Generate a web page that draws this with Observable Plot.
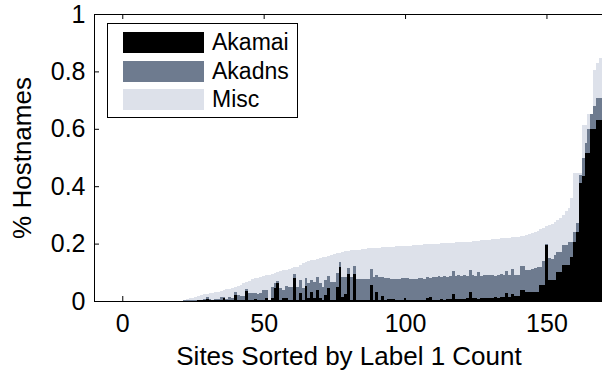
<!DOCTYPE html>
<html>
<head>
<meta charset="utf-8">
<script src="https://cdn.jsdelivr.net/npm/d3@7"></script>
<script src="https://cdn.jsdelivr.net/npm/@observablehq/plot@0.6"></script>
<style>
  html, body { margin: 0; padding: 0; background: #fff; }
  #wrap { position: relative; width: 602px; height: 371px; overflow: hidden; font-family: "Liberation Sans", Arial, sans-serif; }
  #legend { position: absolute; left: 107px; top: 23px; width: 189px; height: 93px; border: 1px solid #000; background: #fff; }
  .row { position: absolute; left: 15px; height: 21px; display: flex; align-items: center; }
  .sw { width: 81px; height: 21px; margin-right: 8px; }
  .lab { font-size: 23px; color: #000; line-height: 21px; }
</style>
</head>
<body>
<div id="wrap"></div>
<script>
// Overlapping bars (each drawn from 0): visible heights
const seriesNames = ["Akamai", "Akadns", "Misc"];
const seriesColors = ["#000000", "#6e7b8f", "#dde1ea"];
const xTicks = [0, 50, 100, 150];
const xTickLabels = ["0", "50", "100", "150"];
const yTicks = [0, 0.2, 0.4, 0.6, 0.8, 1];
const yTickLabels = ["0", "0.2", "0.4", "0.6", "0.8", "1"];
const xLabel = "Sites Sorted by Label 1 Count";
const yLabel = "% Hostnames";

const misc = [
  0,0,0,0,0,0,0,0,0,0,
  0,0,0,0,0,0,0,0,0,0,
  0,0.004,0.006,0.009,0.012,0.014,0.017,0.020,0.023,0.025,
  0.027,0.029,0.031,0.033,0.036,0.039,0.041,0.043,0.046,0.050,
  0.054,0.057,0.061,0.066,0.071,0.076,0.079,0.081,0.084,0.087,
  0.089,0.092,0.095,0.098,0.101,0.104,0.107,0.109,0.111,0.114,
  0.117,0.120,0.125,0.131,0.137,0.140,0.142,0.144,0.146,0.149,
  0.152,0.155,0.158,0.160,0.163,0.166,0.168,0.171,0.173,0.175,
  0.176,0.177,0.178,0.179,0.180,0.181,0.183,0.184,0.185,0.185,
  0.186,0.187,0.187,0.188,0.189,0.189,0.190,0.191,0.191,0.192,
  0.193,0.193,0.194,0.195,0.195,0.196,0.197,0.197,0.198,0.199,
  0.199,0.200,0.201,0.201,0.202,0.203,0.203,0.204,0.205,0.205,
  0.206,0.206,0.207,0.208,0.209,0.210,0.211,0.212,0.213,0.214,
  0.215,0.216,0.217,0.218,0.219,0.220,0.221,0.222,0.223,0.224,
  0.225,0.228,0.231,0.234,0.237,0.241,0.245,0.250,0.255,0.260,
  0.265,0.270,0.276,0.282,0.289,0.300,0.312,0.325,0.360,0.446,
  0.446,0.446,0.614,0.614,0.650,0.650,0.806,0.830,0.848,0.860
];
const akadns = [
  0,0,0,0,0,0,0,0,0,0,
  0,0,0,0,0,0,0,0,0,0,
  0,0.003,0.004,0.004,0.005,0.004,0.005,0.005,0.006,0.015,
  0.006,0.005,0.006,0.007,0.014,0.014,0.008,0.014,0.012,0.033,
  0.020,0.017,0.018,0.042,0.027,0.027,0.027,0.026,0.028,0.038,
  0.038,0.004,0.050,0.062,0.070,0.044,0.039,0.052,0.048,0.048,
  0.094,0.050,0.073,0.044,0.081,0.062,0.073,0.067,0.083,0.062,
  0.050,0.073,0.087,0.067,0.067,0.097,0.135,0.085,0.085,0.114,
  0.083,0.122,0.078,0.077,0.075,0.076,0.078,0.112,0.085,0.090,
  0.082,0.085,0.080,0.080,0.078,0.078,0.077,0.078,0.079,0.080,
  0.079,0.077,0.076,0.078,0.080,0.079,0.078,0.085,0.080,0.085,
  0.083,0.086,0.085,0.087,0.084,0.088,0.106,0.087,0.090,0.088,
  0.089,0.086,0.108,0.090,0.088,0.100,0.088,0.090,0.092,0.090,
  0.089,0.088,0.090,0.093,0.090,0.106,0.090,0.110,0.092,0.092,
  0.122,0.122,0.108,0.108,0.110,0.114,0.120,0.120,0.140,0.200,
  0.150,0.148,0.160,0.172,0.172,0.195,0.195,0.207,0.207,0.242,
  0.271,0.440,0.500,0.550,0.600,0.650,0.678,0.708,0.708,0.710
];
const akamai = [
  0,0,0,0,0,0,0,0,0,0,
  0,0,0,0,0,0,0,0,0,0,
  0,0.001,0.001,0.001,0.001,0.001,0.002,0.002,0.002,0.006,
  0.002,0.002,0.002,0.003,0.003,0.009,0.002,0.003,0.003,0.021,
  0.003,0.003,0.003,0.036,0.003,0.003,0.006,0.003,0.003,0.003,
  0.009,0.002,0.012,0.044,0.064,0.003,0.009,0.009,0.003,0.003,
  0.081,0.003,0.027,0.003,0.054,0.009,0.033,0.009,0.038,0.009,
  0.002,0.021,0.044,0.003,0.003,0.048,0.120,0.015,0.024,0.094,
  0.003,0.094,0.003,0.003,0.003,0.003,0.003,0.056,0.005,0.033,
  0.004,0.017,0.004,0.006,0.006,0.006,0.003,0.003,0.003,0.009,
  0.005,0.003,0.003,0.003,0.003,0.003,0.003,0.009,0.013,0.005,
  0.004,0.005,0.006,0.005,0.007,0.008,0.023,0.006,0.007,0.008,
  0.008,0.010,0.033,0.009,0.010,0.008,0.010,0.012,0.010,0.011,
  0.012,0.013,0.012,0.015,0.013,0.027,0.014,0.025,0.016,0.018,
  0.040,0.040,0.030,0.030,0.030,0.033,0.033,0.056,0.056,0.195,
  0.073,0.073,0.073,0.100,0.100,0.126,0.126,0.126,0.155,0.207,
  0.242,0.410,0.434,0.516,0.516,0.600,0.600,0.630,0.630,0.630
];

const toRows = (vals) => vals.map((v, k) => ({site: k + 1, v}));
const barOpts = (color) => ({
  x1: d => d.site - 0.5, x2: d => d.site + 0.5, y1: 0, y2: "v",
  fill: color, shapeRendering: "crispEdges"
});

const chart = Plot.plot({
  width: 602, height: 371,
  marginLeft: 94, marginRight: -1, marginTop: 14, marginBottom: 70,
  x: {domain: [-10, 170], ticks: xTicks, tickSize: 0, tickPadding: 13,
      tickFormat: d => xTickLabels[xTicks.indexOf(d)], label: null},
  y: {domain: [0, 1], ticks: yTicks, tickSize: 0, tickPadding: 9,
      tickFormat: d => yTickLabels[yTicks.indexOf(d)], label: null},
  style: {fontFamily: "'Liberation Sans', Arial, sans-serif", fontSize: "25px", color: "#000", background: "#fff"},
  marks: [
    // inward tick marks: bottom, top, left
    Plot.tickX(xTicks, {x: d => d, insetTop: 282, stroke: "#000"}),
    Plot.tickX(xTicks, {x: d => d, insetBottom: 282, stroke: "#000"}),
    Plot.tickY(yTicks, {y: d => d, insetRight: 504, stroke: "#000"}),
    Plot.rectY(toRows(misc), barOpts(seriesColors[2])),
    Plot.rectY(toRows(akadns), barOpts(seriesColors[1])),
    Plot.rectY(toRows(akamai), barOpts(seriesColors[0])),
    Plot.frame({stroke: "#000"}),
    Plot.text([xLabel], {frameAnchor: "bottom", textAnchor: "middle", lineAnchor: "bottom", dy: 63, fontSize: 26, fill: "#000"}),
    Plot.text([yLabel], {frameAnchor: "left", textAnchor: "middle", lineAnchor: "middle", dx: -72, rotate: -90, fontSize: 26, fill: "#000"})
  ]
});

const wrap = document.getElementById("wrap");
wrap.appendChild(chart);

const legend = document.createElement("div");
legend.id = "legend";
seriesNames.forEach((name, k) => {
  const row = document.createElement("div");
  row.className = "row";
  row.style.top = (8 + k * 28.5) + "px";
  const sw = document.createElement("div");
  sw.className = "sw";
  sw.style.background = seriesColors[k];
  const lab = document.createElement("span");
  lab.className = "lab";
  lab.textContent = name;
  row.appendChild(sw);
  row.appendChild(lab);
  legend.appendChild(row);
});
wrap.appendChild(legend);
</script>
</body>
</html>
